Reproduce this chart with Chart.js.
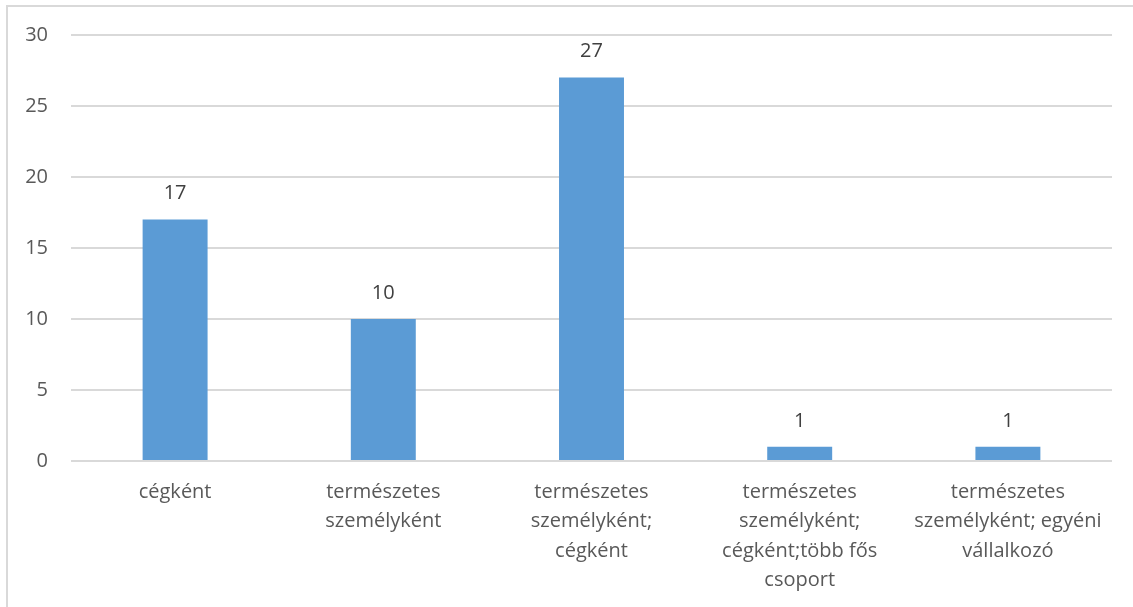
<!DOCTYPE html>
<html>
<head>
<meta charset="utf-8">
<script src="https://cdn.jsdelivr.net/npm/chart.js@4"></script>
<style>
  html, body { margin: 0; padding: 0; background: #fff; overflow: hidden; }
  #keret {
    position: absolute; left: 6px; top: 5px; width: 1200px; height: 700px;
    border-left: 2px solid #d9d9d9; border-top: 2px solid #d9d9d9;
  }
  #doboz { position: absolute; left: 0; top: 0; width: 1133px; height: 607px; }
</style>
</head>
<body>
<div id="keret"></div>
<div id="doboz"><canvas id="grafikon"></canvas></div>
<script>
// --- adatok ---
const kategoriak = [
    'cégként',
    ['természetes', 'személyként'],
    ['természetes', 'személyként;', 'cégként'],
    ['természetes', 'személyként;', 'cégként;több fős', 'csoport'],
    ['természetes', 'személyként; egyéni', 'vállalkozó']
];
const ertekek = [17, 10, 27, 1, 1];
const yTickek = [0, 5, 10, 15, 20, 25, 30];

const betu = '"Open Sans", "Noto Sans", sans-serif';
const szurke = '#595959';

// ertekcimkek az oszlopok fole
const cimkePlugin = {
    id: 'cimkek',
    afterDatasetsDraw(chart) {
        const ctx = chart.ctx;
        const meta = chart.getDatasetMeta(0);
        ctx.save();
        ctx.font = '20px ' + betu;
        ctx.fillStyle = '#404040';
        ctx.textAlign = 'center';
        ctx.textBaseline = 'middle';
        meta.data.forEach((bar, i) => {
            ctx.fillText(String(ertekek[i]), bar.x, bar.y - 26);
        });
        ctx.restore();
    }
};

new Chart(document.getElementById('grafikon'), {
    type: 'bar',
    data: {
        labels: kategoriak,
        datasets: [{
            data: ertekek,
            backgroundColor: '#5b9bd5',
            categoryPercentage: 1,
            barPercentage: 0.312
        }]
    },
    options: {
        responsive: true,
        maintainAspectRatio: false,
        animation: false,
        layout: { padding: { top: 35, right: 21, bottom: 0, left: 0 } },
        plugins: { legend: { display: false }, tooltip: { enabled: false } },
        scales: {
            x: {
                grid: { display: false, drawTicks: false },
                border: { display: false },
                ticks: {
                    color: szurke,
                    font: { family: betu, size: 20, lineHeight: 1.48 },
                    padding: 16,
                    maxRotation: 0,
                    autoSkip: false
                },
                afterFit(sk) { sk.height = 146; }
            },
            y: {
                min: 0,
                max: 30,
                afterBuildTicks(sk) { sk.ticks = yTickek.map(v => ({ value: v })); },
                grid: { color: '#d9d9d9', lineWidth: 2, drawTicks: false },
                border: { display: false },
                ticks: {
                    color: szurke,
                    font: { family: betu, size: 20 },
                    padding: 23
                },
                afterFit(sk) { sk.width = 71; }
            }
        }
    },
    plugins: [cimkePlugin]
});
</script>
</body>
</html>
